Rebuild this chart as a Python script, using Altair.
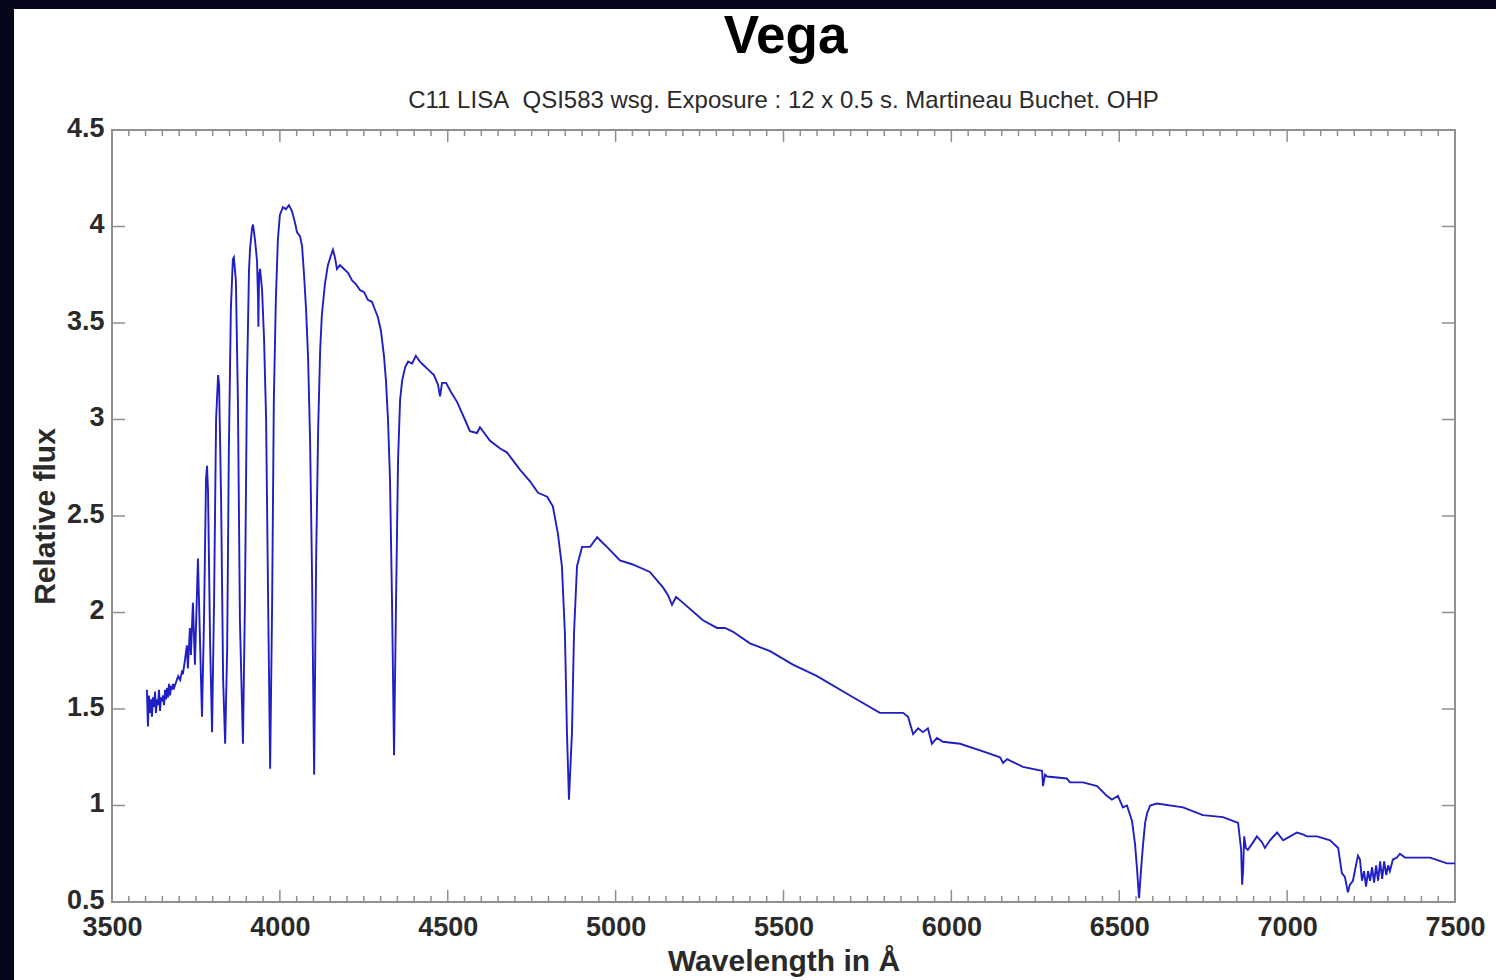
import altair as alt
import pandas as pd

TITLE = "Vega"
SUBTITLE = "C11 LISA\u00a0 QSI583 wsg. Exposure : 12 x 0.5 s. Martineau Buchet. OHP"
X_TITLE = "Wavelength in Å"
Y_TITLE = "Relative flux"

wavelength = [
    3604, 3607, 3610, 3613, 3616, 3619, 3622, 3625, 3628, 3631, 3634, 3637, 3640, 3643,
    3646, 3649, 3652, 3655, 3658, 3661, 3664, 3667, 3670, 3673, 3676, 3679, 3682, 3685,
    3691, 3697, 3703, 3709, 3711, 3717, 3723, 3726, 3732, 3735, 3741, 3747, 3756, 3762,
    3768, 3774, 3780, 3783, 3786, 3792, 3798, 3804, 3810, 3816, 3819, 3825, 3831, 3837,
    3843, 3848, 3854, 3860, 3863, 3869, 3875, 3881, 3890, 3896, 3902, 3908, 3911, 3917,
    3920, 3926, 3932, 3935, 3936, 3938, 3941, 3947, 3953, 3959, 3965, 3971, 3977, 3982,
    3988, 3994, 4000, 4009, 4018, 4027, 4036, 4045, 4051, 4060, 4066, 4072, 4078, 4084,
    4090, 4096, 4102, 4108, 4114, 4120, 4125, 4134, 4143, 4152, 4158, 4164, 4170, 4179,
    4191, 4203, 4215, 4227, 4239, 4251, 4262, 4274, 4283, 4292, 4301, 4310, 4316, 4322,
    4328, 4334, 4340, 4346, 4352, 4358, 4364, 4373, 4382, 4394, 4405, 4417, 4429, 4441,
    4459, 4471, 4477, 4483, 4495, 4507, 4528, 4551, 4566, 4587, 4596, 4626, 4656, 4676,
    4715, 4745, 4769, 4796, 4813, 4828, 4840, 4849, 4855, 4861, 4870, 4876, 4885, 4900,
    4924, 4945, 4962, 4974, 5013, 5049, 5102, 5141, 5156, 5168, 5180, 5201, 5260, 5302,
    5326, 5350, 5400, 5460, 5528, 5600, 5698, 5787, 5856, 5871, 5886, 5901, 5915, 5930,
    5942, 5957, 5975, 6026, 6094, 6145, 6154, 6166, 6213, 6270, 6273, 6279, 6285, 6344,
    6353, 6392, 6434, 6463, 6478, 6496, 6511, 6523, 6538, 6547, 6553, 6559, 6565, 6571,
    6577, 6583, 6592, 6612, 6690, 6749, 6809, 6854, 6863, 6866, 6869, 6872, 6877, 6883,
    6895, 6910, 6925, 6934, 6949, 6970, 6988, 7009, 7029, 7047, 7059, 7089, 7128, 7152,
    7163, 7172, 7181, 7187, 7196, 7205, 7211, 7217, 7223, 7229, 7235, 7241, 7247, 7253,
    7259, 7265, 7271, 7277, 7283, 7289, 7295, 7301, 7306, 7315, 7327, 7336, 7351, 7387,
    7426, 7476, 7500,
]

flux = [
    1.60, 1.41, 1.57, 1.48, 1.55, 1.46, 1.56, 1.51, 1.59, 1.48, 1.55, 1.52, 1.60, 1.49,
    1.56, 1.54, 1.57, 1.52, 1.60, 1.55, 1.61, 1.56, 1.63, 1.57, 1.62, 1.60, 1.63, 1.61,
    1.64, 1.67, 1.65, 1.70, 1.68, 1.75, 1.83, 1.71, 1.92, 1.78, 2.05, 1.73, 2.28, 1.86,
    1.46, 1.96, 2.69, 2.76, 2.63, 1.86, 1.38, 2.06, 3.00, 3.23, 3.18, 2.58, 1.65, 1.32,
    1.81, 2.84, 3.57, 3.83, 3.84, 3.72, 3.10, 1.96, 1.32, 2.06, 3.20, 3.77, 3.88, 3.99,
    4.01, 3.93, 3.82, 3.62, 3.48, 3.75, 3.78, 3.67, 3.41, 3.00, 2.06, 1.19, 2.06, 3.10,
    3.62, 3.93, 4.06, 4.10, 4.09, 4.11, 4.08, 4.02, 3.97, 3.95, 3.90, 3.75, 3.57, 3.32,
    2.89, 2.17, 1.16, 2.27, 2.95, 3.36, 3.54, 3.70, 3.80, 3.85, 3.88, 3.84, 3.78, 3.80,
    3.78, 3.76, 3.72, 3.70, 3.67, 3.66, 3.62, 3.61, 3.57, 3.53, 3.46, 3.33, 3.20, 3.00,
    2.69, 2.06, 1.26, 2.06, 2.79, 3.10, 3.20, 3.27, 3.30, 3.29, 3.33, 3.30, 3.28, 3.26,
    3.23, 3.18, 3.12, 3.19, 3.19, 3.15, 3.09, 3.00, 2.94, 2.93, 2.96, 2.89, 2.85, 2.83,
    2.74, 2.68, 2.62, 2.60, 2.55, 2.41, 2.24, 1.89, 1.38, 1.03, 1.38, 1.89, 2.24, 2.34,
    2.34, 2.39, 2.36, 2.34, 2.27, 2.25, 2.21, 2.13, 2.09, 2.04, 2.08, 2.05, 1.96, 1.92,
    1.92, 1.90, 1.84, 1.80, 1.73, 1.67, 1.57, 1.48, 1.48, 1.46, 1.37, 1.40, 1.38, 1.40,
    1.32, 1.35, 1.33, 1.32, 1.28, 1.25, 1.22, 1.24, 1.20, 1.18, 1.10, 1.16, 1.15, 1.14,
    1.12, 1.12, 1.10, 1.05, 1.03, 1.05, 0.99, 1.00, 0.92, 0.80, 0.67, 0.52, 0.67, 0.80,
    0.91, 0.96, 1.00, 1.01, 0.99, 0.95, 0.94, 0.91, 0.77, 0.59, 0.67, 0.84, 0.78, 0.77,
    0.80, 0.84, 0.81, 0.78, 0.82, 0.86, 0.82, 0.84, 0.86, 0.85, 0.84, 0.84, 0.82, 0.78,
    0.65, 0.63, 0.55, 0.59, 0.61, 0.69, 0.74, 0.72, 0.61, 0.66, 0.58, 0.66, 0.61, 0.68,
    0.60, 0.69, 0.61, 0.71, 0.62, 0.71, 0.64, 0.69, 0.66, 0.72, 0.73, 0.75, 0.73, 0.73,
    0.73, 0.70, 0.70,
]

x_major = [3500, 4000, 4500, 5000, 5500, 6000, 6500, 7000, 7500]
x_minor = [v for v in range(3550, 7500, 50) if v % 500 != 0]
y_major = [0.5, 1, 1.5, 2, 2.5, 3, 3.5, 4, 4.5]

W, H = 1343, 772
PAD_L, PAD_T, PAD_R, PAD_B = 112, 130, 41, 78
GRAY = "#8f8f8f"
LINE = "#1f1fc4"
DARK = "#05071a"
FONT = "Liberation Sans"
TXT = "#2a2a2a"

xs = alt.Scale(domain=[3500, 7500], nice=False, zero=False)
ys = alt.Scale(domain=[0.5, 4.5], nice=False, zero=False)

xaxis = alt.Axis(
    values=x_major, format="d", title=X_TITLE, domain=False, ticks=False, tickSize=0,
    grid=False, labelFont=FONT, labelFontSize=27, labelFontWeight="bold",
    labelColor=TXT, labelPadding=12, labelFlush=False, labelOverlap=False,
    titleFont=FONT, titleFontSize=30, titleFontWeight="bold", titleColor=TXT,
    titleX=W / 2, titleY=68, titleBaseline="alphabetic", titleAlign="center", zindex=1)
yaxis = alt.Axis(
    values=y_major, labelExpr="'' + datum.value", title=Y_TITLE, domain=False,
    ticks=False, tickSize=0, grid=False, labelFont=FONT, labelFontSize=27,
    labelFontWeight="bold", labelColor=TXT, labelPadding=8, labelOffset=-2,
    labelFlush=False, labelOverlap=False, titleFont=FONT, titleFontSize=30,
    titleFontWeight="bold", titleColor=TXT, titleX=-58, titleY=H / 2, titleAngle=270,
    titleBaseline="alphabetic", titleAlign="center", zindex=1)

spec = pd.DataFrame({"wavelength": wavelength, "flux": flux})
line = alt.Chart(spec).mark_line(color=LINE, strokeWidth=1.9, clip=True).encode(
    x=alt.X("wavelength:Q", scale=xs, axis=xaxis, title=X_TITLE),
    y=alt.Y("flux:Q", scale=ys, axis=yaxis, title=Y_TITLE),
)

xmaj = pd.DataFrame({"wavelength": x_major})
xmin = pd.DataFrame({"wavelength": x_minor})
ymaj = pd.DataFrame({"flux": y_major})

def xticks(df, y0, y1):
    return alt.Chart(df).mark_rule(color=GRAY, strokeWidth=1.5).encode(
        x=alt.X("wavelength:Q", scale=xs, axis=xaxis, title=X_TITLE),
        y=alt.value(y0), y2=alt.value(y1))

def yticks(df, x0, x1):
    return alt.Chart(df).mark_rule(color=GRAY, strokeWidth=1.5).encode(
        y=alt.Y("flux:Q", scale=ys, axis=yaxis, title=Y_TITLE),
        x=alt.value(x0), x2=alt.value(x1))

ticks = [
    xticks(xmaj, H, H - 12), xticks(xmin, H, H - 6),
    xticks(xmaj, 0, 12), xticks(xmin, 0, 6),
    yticks(ymaj, 0, 13), yticks(ymaj, W, W - 13),
]

one = pd.DataFrame({"a": [0]})
frame_top = alt.Chart(one).mark_rect(color=DARK).encode(
    x=alt.value(-PAD_L), x2=alt.value(W + PAD_R), y=alt.value(-PAD_T), y2=alt.value(-PAD_T + 9))
frame_left = alt.Chart(one).mark_rect(color=DARK).encode(
    x=alt.value(-PAD_L), x2=alt.value(-PAD_L + 14), y=alt.value(-PAD_T), y2=alt.value(H + PAD_B))

title = alt.Chart(one).mark_text(font=FONT, fontSize=53, fontWeight="bold", color="#000000",
                                 align="center", baseline="alphabetic").encode(
    x=alt.value(W / 2 + 2), y=alt.value(-77), text=alt.value(TITLE))
subtitle = alt.Chart(one).mark_text(font=FONT, fontSize=24, color=TXT,
                                    align="center", baseline="alphabetic").encode(
    x=alt.value(W / 2), y=alt.value(-22), text=alt.value(SUBTITLE))

chart = alt.layer(line, *ticks, frame_top, frame_left, title, subtitle).properties(
    width=W, height=H,
    autosize=alt.AutoSizeParams(type="none"),
    padding={"left": PAD_L, "top": PAD_T, "right": PAD_R, "bottom": PAD_B},
    background="#ffffff",
).configure_view(stroke=GRAY, strokeWidth=2)

chart.save("out.html", embed_options={"renderer": "svg", "actions": False})
